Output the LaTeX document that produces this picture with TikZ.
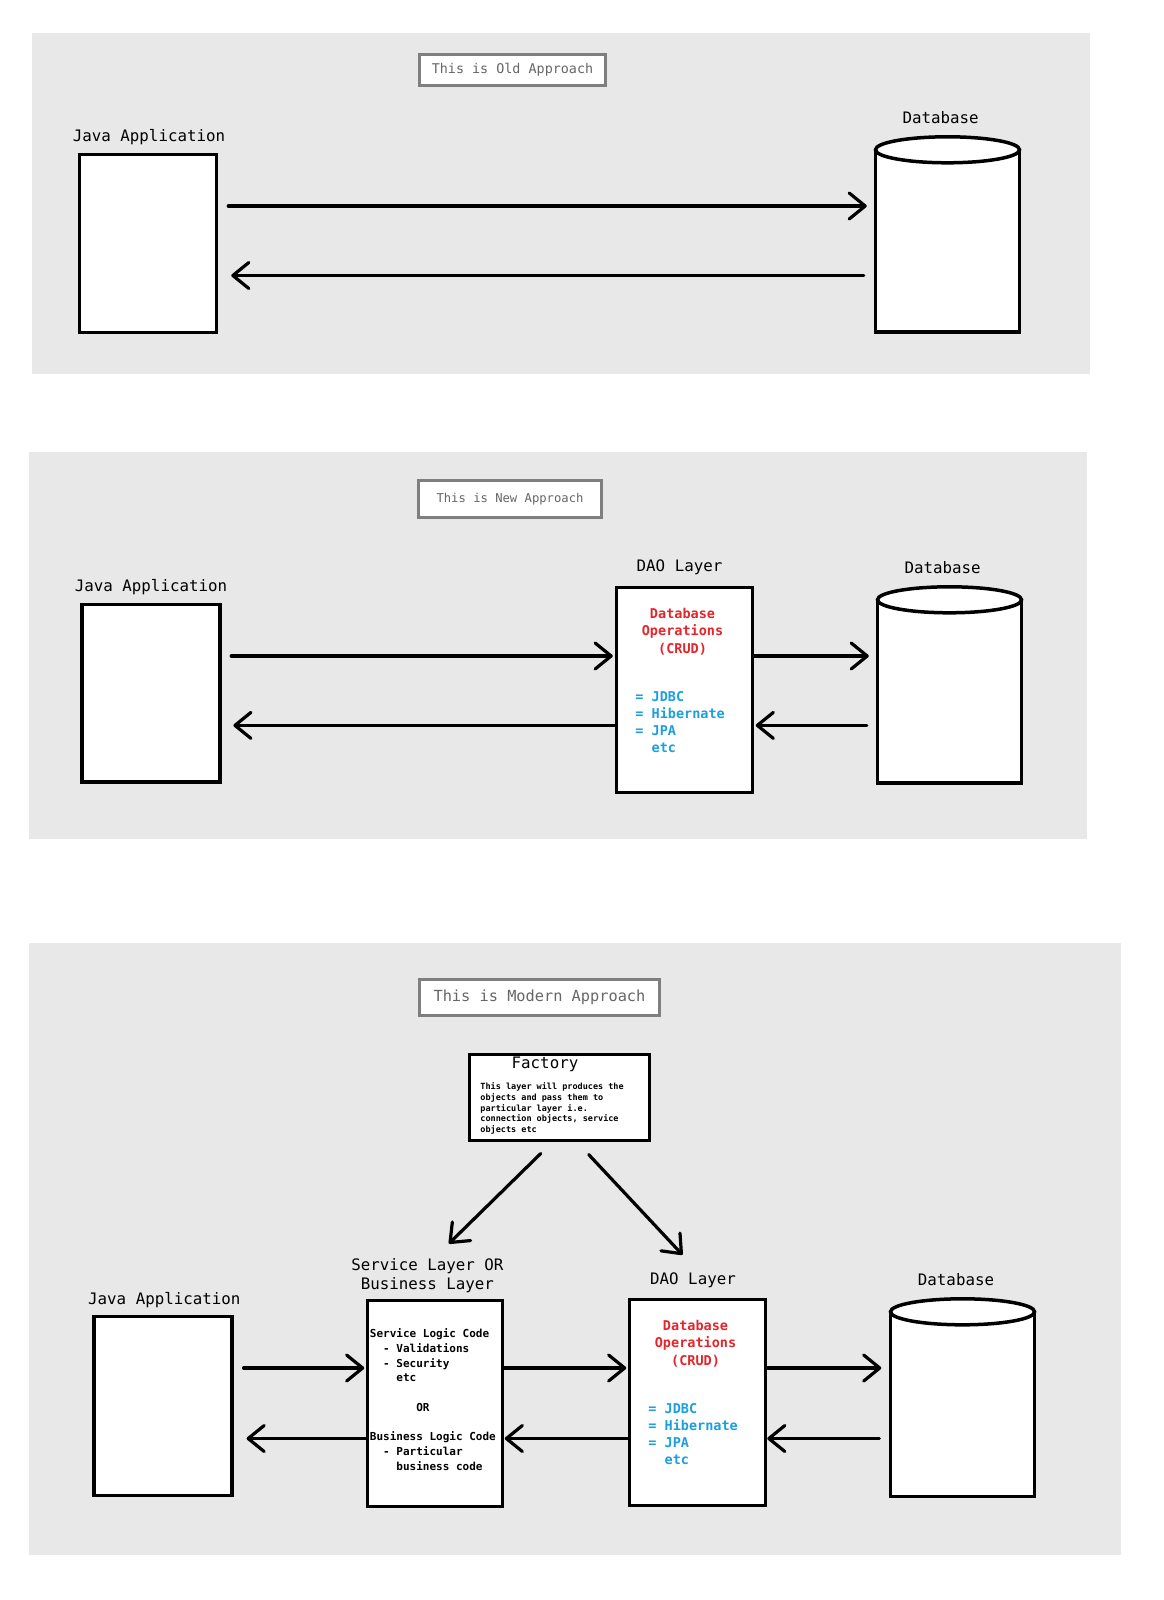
\documentclass[tikz,border=0pt]{standalone}
\usepackage{fontspec}
\setmainfont{DejaVu Sans Mono}
\usetikzlibrary{arrows.meta,calc}

\definecolor{panelgray}{HTML}{E8E8E8}
\definecolor{framegray}{HTML}{7F7F7F}
\definecolor{titlegray}{HTML}{666666}
\definecolor{opred}{HTML}{E2262C}
\definecolor{techblue}{HTML}{1C9FDD}

\newcommand\fsz[2]{\fontsize{#1}{#2}\selectfont}
% indentation in character cells of the current (monospaced) font
\newcommand\pad[1]{\hspace*{#1\fontcharwd\font`\0}}

\tikzset{
  titlebox/.style={draw=framegray, line width=3.2pt, fill=white, text=titlegray, inner sep=0pt},
  whitebox/.style={draw=black, line width=3.5pt, fill=white, inner sep=0pt},
  lbl/.style={inner sep=0pt, font=\fsz{15.8}{19}},
  arr/.style={line width=3.2pt, line cap=round, -{Straight Barb[length=16pt,width=26pt,round]}},
  optxt/.style={inner sep=0pt, anchor=base, text=opred, font=\fsz{13.5}{17}\bfseries},
  techtxt/.style={inner sep=0pt, anchor=base west, text=techblue, font=\fsz{13.5}{17}\bfseries},
  codetxt/.style={inner sep=0pt, anchor=base west, font=\fsz{11}{14}\bfseries},
  facttxt/.style={inner sep=0pt, anchor=base west, font=\fsz{8.5}{10.5}\bfseries},
  drum/.style={inner sep=0pt, minimum width=144},
}

% database drum: flat bottom, elliptic lid, drawn around a named node
\newcommand\drumdraw[1]{%
  \fill[white] (#1.north west) rectangle (#1.south east);
  \draw[line width=3.5pt, line join=miter] (#1.north west) -- (#1.south west) -- (#1.south east) -- (#1.north east);
  \draw[line width=3.5pt, fill=white] (#1.north) ellipse [x radius=72, y radius=13];
}

% contents of a DAO box
\newcommand\daotext[1]{%
  \foreach \k/\t in {0/Database,1/Operations,2/{(CRUD)}}
    \node[optxt] (#1r\k) at ($(#1.north)+(-2,{32.5+17.5*\k})$) {\t};
  \foreach \k/\t in {0/= JDBC,1/= Hibernate,2/= JPA,3/\pad{2}etc}
    \node[techtxt] (#1b\k) at ($(#1.north west)+(20.5,{115.5+17.2*\k})$) {\t};
}

\begin{document}
\begin{tikzpicture}[x=1pt,y=-1pt]
\useasboundingbox (0,0) rectangle (1163,1600);
\fill[white] (0,0) rectangle (1163,1600);

% ---------------- old approach ----------------
\fill[panelgray] (31.6,32.6) rectangle (1089.6,374.4);
\node[titlebox, minimum width=186, minimum height=31, font=\fsz{13.4}{16}] (title1) at (512.5,70) {This is Old Approach};
\node[whitebox, minimum width=137, minimum height=178] (java1) at (148,243.5) {};
\node[lbl] (java1lbl) at (149,136.7) {Java Application};
\node[drum, minimum height=182] (db1) at (947.5,241) {};
\drumdraw{db1}
\node[lbl] (db1lbl) at (940.6,117.3) {Database};
\coordinate (rowA) at (0,206);
\coordinate (rowB) at (0,275.5);
\draw[arr, shorten <=10pt, shorten >=8.5pt] (java1.east |- rowA) -- (db1.west |- rowA);
\draw[arr, shorten <=11.5pt, shorten >=13pt] (db1.west |- rowB) -- (java1.east |- rowB);

% ---------------- new approach ----------------
\fill[panelgray] (28.6,452) rectangle (1086.5,838.6);
\node[titlebox, minimum width=183, minimum height=37, font=\fsz{12.2}{15}] (title2) at (510,499) {This is New Approach};
\node[whitebox, minimum width=138, minimum height=177.5] (java2) at (151,693.3) {};
\node[lbl] (java2lbl) at (151,586.6) {Java Application};
\node[whitebox, minimum width=136, minimum height=205] (dao2) at (684.5,690) {};
\node[lbl] (dao2lbl) at (679.5,567.2) {DAO Layer};
\daotext{dao2}
\node[drum, minimum height=183] (db2) at (949.5,691.5) {};
\drumdraw{db2}
\node[lbl] (db2lbl) at (942.7,567.2) {Database};
\coordinate (rowC) at (0,656);
\coordinate (rowD) at (0,725.4);
\draw[arr, shorten <=9.5pt, shorten >=2pt] (java2.east |- rowC) -- (dao2.west |- rowC);
\draw[arr, shorten >=11.6pt] (dao2.west |- rowD) -- (java2.east |- rowD);
\draw[arr, shorten >=8.5pt] (dao2.east |- rowC) -- (db2.west |- rowC);
\draw[arr, shorten <=10.5pt, shorten >=1.5pt] (db2.west |- rowD) -- (dao2.east |- rowD);

% ---------------- modern approach ----------------
\fill[panelgray] (28.6,942.7) rectangle (1121,1554.8);
\node[titlebox, minimum width=240, minimum height=36, font=\fsz{15.3}{18}] (title3) at (539.5,997.5) {This is Modern Approach};

\node[whitebox, minimum width=180, minimum height=86] (fac) at (559.5,1097.5) {};
\node[lbl] (factitle) at ($(fac.north)+(-14.5,12)$) {Factory};
\foreach \k/\t in {0/This layer will produces the,1/objects and pass them to,2/particular layer i.e.,3/{connection objects, service},4/objects etc}
  \node[facttxt] (fac\k) at ($(fac.north west)+(12.5,{36.8+10.8*\k})$) {\t};

\node[whitebox, minimum width=135, minimum height=206] (svc) at (435,1403.5) {};
\node[lbl] (svclblA) at (427.4,1265.7) {Service Layer OR};
\node[lbl] (svclblB) at (427.4,1285) {Business Layer};
\foreach \k/\t in {0/Service Logic Code,1/\pad{2}- Validations,2/\pad{2}- Security,3/\pad{4}etc,5/\pad{7}OR,7/Business Logic Code,8/\pad{2}- Particular,9/\pad{4}business code}
  \node[codetxt] (svc\k) at ($(svc.north west)+(4,{39+14.7*\k})$) {\t};

\node[whitebox, minimum width=138, minimum height=179] (java3) at (163.2,1406) {};
\node[lbl] (java3lbl) at (164.3,1299.8) {Java Application};

\node[whitebox, minimum width=136, minimum height=206] (dao3) at (697.5,1402.5) {};
\node[lbl] (dao3lbl) at (693,1280) {DAO Layer};
\daotext{dao3}

\node[drum, minimum height=184.5] (db3) at (962.5,1404.25) {};
\drumdraw{db3}
\node[lbl] (db3lbl) at (956,1280) {Database};

\coordinate (fA) at (448.9,1243.6);
\coordinate (fB) at (682.5,1254.8);
\draw[arr] ($(fac.south)+(-18.8,11.3)$) -- (fA);
\draw[arr] ($(fac.south)+(29.2,12.3)$) -- (fB);

\coordinate (rowE) at (0,1368);
\coordinate (rowF) at (0,1438.5);
\draw[arr, shorten <=9.6pt, shorten >=1.5pt] (java3.east |- rowE) -- (svc.west |- rowE);
\draw[arr, shorten >=12.6pt] (svc.west |- rowF) -- (java3.east |- rowF);
\draw[arr, shorten >=1.5pt] (svc.east |- rowE) -- (dao3.west |- rowE);
\draw[arr, shorten >=0.5pt] (dao3.west |- rowF) -- (svc.east |- rowF);
\draw[arr, shorten <=0.5pt, shorten >=9pt] (dao3.east |- rowE) -- (db3.west |- rowE);
\draw[arr, shorten <=11pt] (db3.west |- rowF) -- (dao3.east |- rowF);
\end{tikzpicture}
\end{document}
